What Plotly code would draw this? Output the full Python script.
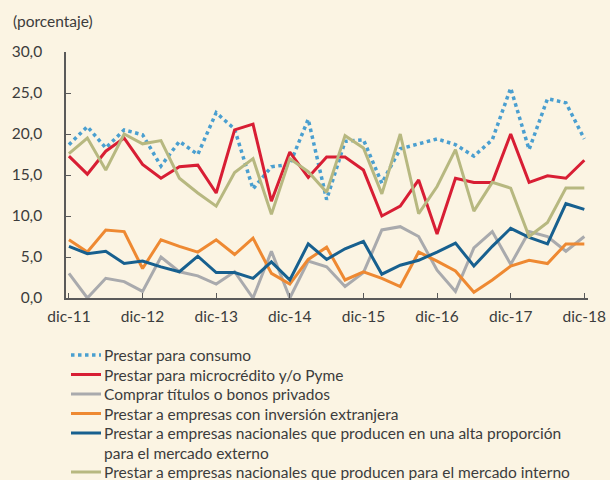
import plotly.graph_objects as go

quarters = list(range(29))
tick_pos = [0, 4, 8, 12, 16, 20, 24, 28]
tick_labels = ["dic-11", "dic-12", "dic-13", "dic-14", "dic-15", "dic-16", "dic-17", "dic-18"]
y_ticks = [0, 5, 10, 15, 20, 25, 30]
y_tick_labels = ["0,0", "5,0", "10,0", "15,0", "20,0", "25,0", "30,0"]

consumo = [18.7, 20.9, 18.3, 20.5, 19.9, 16.1, 19.1, 17.5, 22.6, 20.6, 13.3, 16.0, 16.3, 21.8, 12.0,
           19.1, 19.3, 14.0, 18.2, 18.8, 19.4, 18.7, 17.3, 19.3, 25.6, 18.1, 24.3, 23.8, 19.4]
microcredito = [17.3, 15.1, 17.9, 19.5, 16.3, 14.6, 16.0, 16.2, 12.8, 20.5, 21.2, 11.8, 17.8, 14.7, 17.2,
                17.2, 15.6, 10.0, 11.2, 14.4, 7.8, 14.6, 14.1, 14.1, 20.0, 14.1, 14.9, 14.6, 16.8]
titulos = [3.0, 0.0, 2.4, 2.0, 0.8, 5.0, 3.2, 2.7, 1.7, 3.2, 0.0, 5.7, 0.0, 4.5, 3.8,
           1.4, 3.1, 8.3, 8.7, 7.5, 3.4, 0.8, 6.1, 8.1, 4.1, 8.1, 7.5, 5.7, 7.5]
extranjera = [7.1, 5.6, 8.3, 8.1, 3.6, 7.1, 6.3, 5.6, 7.1, 5.3, 7.3, 3.0, 1.7, 4.7, 6.2,
              2.2, 3.2, 2.4, 1.4, 5.6, 4.5, 3.3, 0.7, 2.2, 3.9, 4.6, 4.2, 6.6, 6.6]
externo = [6.3, 5.4, 5.7, 4.2, 4.5, 3.8, 3.2, 5.1, 3.1, 3.1, 2.4, 4.4, 2.2, 6.6, 4.7,
           6.0, 6.9, 2.9, 4.0, 4.6, 5.6, 6.7, 3.9, 6.3, 8.5, 7.4, 6.6, 11.5, 10.8]
interno = [17.6, 19.5, 15.6, 20.0, 18.8, 19.2, 14.6, 12.8, 11.2, 15.3, 17.0, 10.2, 17.0, 15.4, 12.9,
           19.8, 18.3, 12.7, 20.0, 10.3, 13.6, 18.1, 10.6, 14.1, 13.4, 7.5, 9.2, 13.4, 13.4]

series_names = [
    "Prestar para consumo",
    "Prestar para microcrédito y/o Pyme",
    "Comprar títulos o bonos privados",
    "Prestar a empresas con inversión extranjera",
    "Prestar a empresas nacionales que producen en una alta proporción<br>para el mercado externo",
    "Prestar a empresas nacionales que producen para el mercado interno",
]
series_values = [consumo, microcredito, titulos, extranjera, externo, interno]
series_colors = ["#4A9FD0", "#D81E34", "#A9AAAD", "#EE8932", "#17608F", "#B7B880"]
series_dash = ["dot", "solid", "solid", "solid", "solid", "solid"]
series_width = [3.5, 3, 3, 3, 3, 3]

BG = "#FBF4E3"
TXT = "#3C3C3C"
FONT = "Lato"
FS = 15.5

# plot-area geometry (pixels) used to place the hand-made legend
L, R, T, B = 66, 588, 52, 298
W, H = R - L, B - T


def px_x(x):
    return (x - L) / W


def px_y(y):
    return (B - y) / H


fig = go.Figure()
for name, vals, color, dash, w in zip(series_names, series_values, series_colors, series_dash, series_width):
    fig.add_trace(go.Scatter(x=quarters, y=vals, mode="lines", name=name.replace("<br>", " "),
                             line=dict(color=color, width=w, dash=dash), showlegend=False,
                             hoverinfo="skip"))

# legend rows: (y of sample line, y of text-box centre) in pixels
LINE_GAP = 19.5
row_top = 355.0
shapes = []
annotations = []
row = row_top
for name, color, dash, w in zip(series_names, series_colors, series_dash, series_width):
    nlines = name.count("<br>") + 1
    text_center = row + (nlines - 1) * LINE_GAP / 2
    shapes.append(dict(type="line", xref="paper", yref="paper",
                       x0=px_x(71), x1=px_x(101), y0=px_y(row), y1=px_y(row),
                       line=dict(color=color, width=w, dash=dash)))
    annotations.append(dict(text=name, xref="paper", yref="paper",
                            x=px_x(103), y=px_y(text_center),
                            xanchor="left", yanchor="middle", align="left", showarrow=False,
                            borderpad=0,
                            font=dict(family=FONT, size=FS, color=TXT)))
    row += nlines * LINE_GAP

annotations.append(dict(text="(porcentaje)", xref="paper", yref="paper", x=px_x(11), y=px_y(21),
                        xanchor="left", yanchor="middle", showarrow=False,
                        font=dict(family=FONT, size=FS, color=TXT)))

fig.update_layout(
    width=610, height=480,
    paper_bgcolor=BG, plot_bgcolor=BG,
    margin=dict(l=L, r=610 - R, t=T, b=480 - B, autoexpand=False),
    font=dict(family=FONT, size=FS, color=TXT),
    showlegend=False,
    xaxis=dict(range=[-0.16, 28.2], tickmode="array", tickvals=tick_pos, ticktext=tick_labels,
               showgrid=False, zeroline=False, showline=True, linecolor="#5A5A5A", linewidth=1.5,
               ticks="inside", ticklen=5, tickcolor="#5A5A5A", tickwidth=1.2,
               ticklabelstandoff=4,
               tickfont=dict(family=FONT, size=FS, color=TXT)),
    yaxis=dict(range=[0, 30], tickmode="array", tickvals=y_ticks, ticktext=y_tick_labels,
               showgrid=False, zeroline=False, showline=True, linecolor="#5A5A5A", linewidth=1.5,
               ticks="inside", ticklen=5, tickcolor="#5A5A5A", tickwidth=1.2,
               ticklabelstandoff=19,
               tickfont=dict(family=FONT, size=FS, color=TXT)),
    shapes=shapes,
    annotations=annotations,
)

fig.write_html("out.html", config={"displayModeBar": False},
               post_script="document.body.style.margin='0';document.body.style.padding='0';"
                           "document.body.style.background='" + BG + "';")
